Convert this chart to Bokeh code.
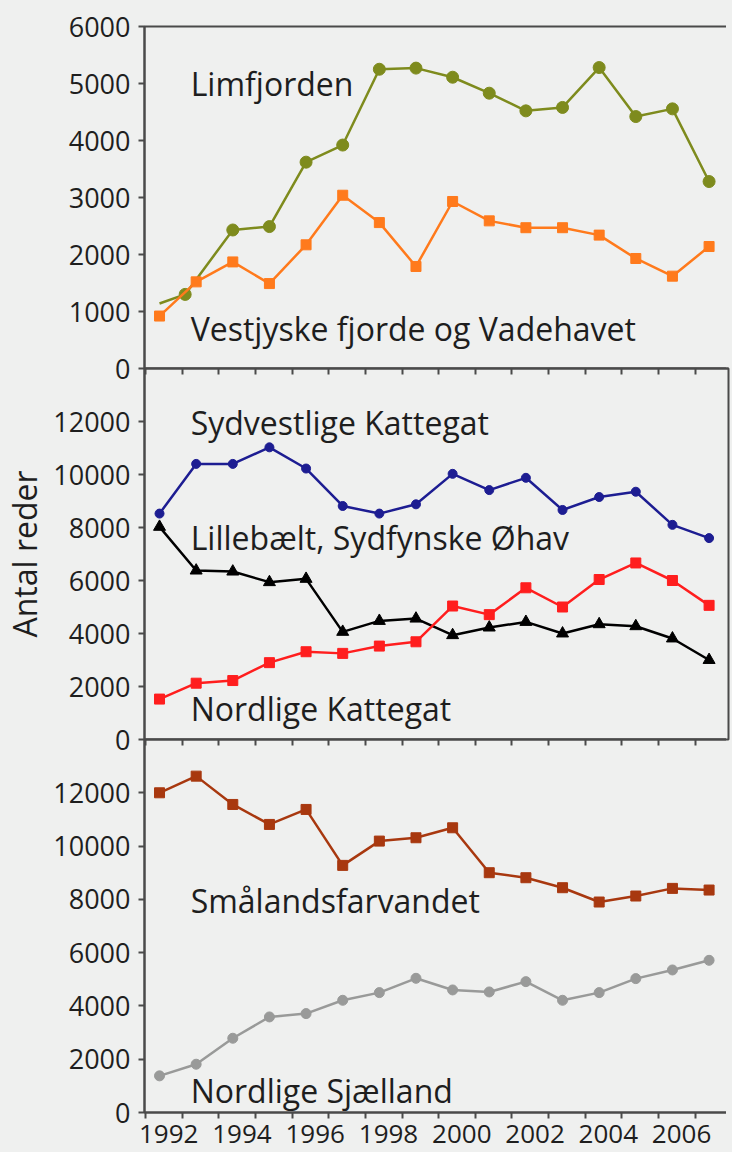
from bokeh.plotting import figure
from bokeh.layouts import column
from bokeh.models import FixedTicker, LinearAxis, Range1d, Label
from bokeh.embed import file_html
from bokeh.resources import INLINE

# ---------------- data ----------------
years = list(range(1992, 2008))

limfjorden_years = [1992, 1992.7, 1994, 1995, 1996, 1997, 1998, 1999, 2000,
                    2001, 2002, 2003, 2004, 2005, 2006, 2007]
limfjorden = [1140, 1300, 2430, 2490, 3620, 3920, 5250, 5270, 5110,
              4830, 4520, 4580, 5280, 4420, 4555, 3280]
vestjyske = [920, 1520, 1870, 1490, 2170, 3040, 2560, 1790, 2930,
             2590, 2470, 2470, 2340, 1930, 1620, 2140]

sydvestlige_kattegat = [8525, 10400, 10400, 11025, 10225, 8812, 8525, 8875,
                        10025, 9412, 9875, 8662, 9150, 9350, 8100, 7600]
lillebaelt = [8025, 6375, 6337, 5937, 6062, 4062, 4475, 4562,
              3937, 4225, 4437, 4000, 4350, 4275, 3812, 3000]
nordlige_kattegat = [1525, 2125, 2225, 2900, 3312, 3250, 3525, 3687,
                     5037, 4712, 5725, 5000, 6037, 6662, 6000, 5062]

smaalandsfarvandet = [12000, 12625, 11562, 10812, 11375, 9275, 10187, 10312,
                      10687, 9000, 8812, 8437, 7900, 8125, 8412, 8350]
nordlige_sjaelland = [1375, 1812, 2787, 3587, 3712, 4212, 4500, 5037,
                      4600, 4525, 4912, 4212, 4500, 5025, 5350, 5712]

top_ticks = [0, 1000, 2000, 3000, 4000, 5000, 6000]
low_ticks = [0, 2000, 4000, 6000, 8000, 10000, 12000]
label_years = [1992, 1994, 1996, 1998, 2000, 2002, 2004, 2006]

# ---------------- style ----------------
BG = "#eff0ef"
FRAME = "#4a4a4a"
TXT = "#1e1e1e"
FONT = "Open Sans"
XR = (1991.59, 2007.53)
year_bounds = [y + 0.62 for y in range(1991, 2007)]
OVER = 22  # overlap border between stacked panels


def make_fig(ymax, frame_h, top, bottom, xloc):
    p = figure(frame_width=584, frame_height=frame_h,
               x_range=Range1d(*XR), y_range=Range1d(0, ymax),
               output_backend="svg", toolbar_location=None,
               x_axis_location=xloc,
               min_border_left=138, min_border_right=4,
               min_border_top=top, min_border_bottom=bottom,
               background_fill_color=BG, border_fill_color=BG)
    p.border_fill_alpha = 0
    p.xgrid.visible = False
    p.ygrid.visible = False
    p.outline_line_color = FRAME
    p.outline_line_width = 2
    ya = p.yaxis[0]
    ya.axis_line_color = FRAME
    ya.axis_line_width = 2
    ya.major_tick_line_color = FRAME
    ya.major_tick_line_width = 2
    ya.major_tick_out = 6
    ya.major_tick_in = 0
    ya.minor_tick_line_color = None
    ya.major_label_standoff = 8
    ya.major_label_text_font = FONT
    ya.major_label_text_font_size = "27px"
    ya.major_label_text_color = TXT
    return p


def boundary_axis(p):
    ax = LinearAxis(ticker=FixedTicker(ticks=year_bounds))
    ax.axis_line_color = FRAME
    ax.axis_line_width = 2
    ax.major_tick_line_color = FRAME
    ax.major_tick_line_width = 2
    ax.major_tick_in = 6
    ax.major_tick_out = 0
    ax.minor_tick_line_color = None
    ax.major_label_text_alpha = 0
    ax.major_label_text_font_size = "1px"
    ax.major_label_standoff = 0
    p.add_layout(ax, "above")


def add_label(p, x, y, text):
    p.add_layout(Label(x=x, y=y, y_offset=9, text=text, text_font=FONT,
                       text_font_size="32px", text_color=TXT,
                       text_baseline="alphabetic", text_align="left"))


# ---------------- top panel ----------------
p1 = make_fig(6000, 342, 26, OVER, None)
p1.yaxis.ticker = FixedTicker(ticks=top_ticks)
OLIVE = "#7e8b1d"
ORANGE = "#ff7a1c"
p1.line(limfjorden_years, limfjorden, line_color=OLIVE, line_width=2.5)
p1.scatter(limfjorden_years[1:], limfjorden[1:], marker="circle", size=12,
           fill_color=OLIVE, line_color=OLIVE)
p1.line(years, vestjyske, line_color=ORANGE, line_width=2.5)
p1.scatter(years, vestjyske, marker="square", size=10,
           fill_color=ORANGE, line_color=ORANGE)
add_label(p1, 1992.85, 4842, "Limfjorden")
add_label(p1, 1992.85, 544, "Vestjyske fjorde og Vadehavet")

# ---------------- middle panel ----------------
p2 = make_fig(14000, 371, OVER, OVER, None)
p2.margin = (-2 * OVER, 0, 0, 0)
p2.yaxis.ticker = FixedTicker(ticks=low_ticks)
p2.yaxis.axis_label = "Antal reder"
p2.yaxis.axis_label_text_font = FONT
p2.yaxis.axis_label_text_font_size = "32px"
p2.yaxis.axis_label_text_font_style = "normal"
p2.yaxis.axis_label_text_color = TXT
p2.yaxis.axis_label_standoff = 4
boundary_axis(p2)
BLUE = "#1d1d92"
RED = "#ff1e1e"
p2.line(years, sydvestlige_kattegat, line_color=BLUE, line_width=2.5)
p2.scatter(years, sydvestlige_kattegat, marker="circle", size=9,
           fill_color=BLUE, line_color=BLUE)
p2.line(years, lillebaelt, line_color="black", line_width=2.5)
p2.scatter(years, lillebaelt, marker="triangle", size=12,
           fill_color="black", line_color="black")
p2.line(years, nordlige_kattegat, line_color=RED, line_width=2.5)
p2.scatter(years, nordlige_kattegat, marker="square", size=10,
           fill_color=RED, line_color=RED)
add_label(p2, 1992.85, 11623, "Sydvestlige Kattegat")
add_label(p2, 1992.85, 7283, "Lillebælt, Sydfynske Øhav")
add_label(p2, 1992.85, 830, "Nordlige Kattegat")

# ---------------- bottom panel ----------------
p3 = make_fig(14000, 373, OVER, 40, "below")
p3.margin = (-2 * OVER, 0, 0, 0)
p3.yaxis.ticker = FixedTicker(ticks=low_ticks)
xa = p3.below[0]
xa.ticker = FixedTicker(ticks=[y + 0.25 for y in label_years],
                        minor_ticks=year_bounds)
xa.major_label_overrides = {y + 0.25: str(y) for y in label_years}
xa.axis_line_color = FRAME
xa.axis_line_width = 2
xa.major_tick_line_color = None
xa.major_tick_out = 0
xa.major_tick_in = 0
xa.minor_tick_line_color = FRAME
xa.minor_tick_line_width = 2
xa.minor_tick_out = 6
xa.minor_tick_in = 0
xa.major_label_standoff = 6
xa.major_label_text_font = FONT
xa.major_label_text_font_size = "26px"
xa.major_label_text_color = TXT
boundary_axis(p3)
BROWN = "#a8380f"
GREY = "#999a99"
p3.line(years, smaalandsfarvandet, line_color=BROWN, line_width=2.5)
p3.scatter(years, smaalandsfarvandet, marker="square", size=10,
           fill_color=BROWN, line_color=BROWN)
p3.line(years, nordlige_sjaelland, line_color=GREY, line_width=2.5)
p3.scatter(years, nordlige_sjaelland, marker="circle", size=10,
           fill_color=GREY, line_color=GREY)
add_label(p3, 1992.85, 7620, "Smålandsfarvandet")
add_label(p3, 1992.85, 488, "Nordlige Sjælland")

layout = column(p1, p2, p3, spacing=0, styles={"background-color": BG})

open("out.html", "w").write(file_html(layout, INLINE))
